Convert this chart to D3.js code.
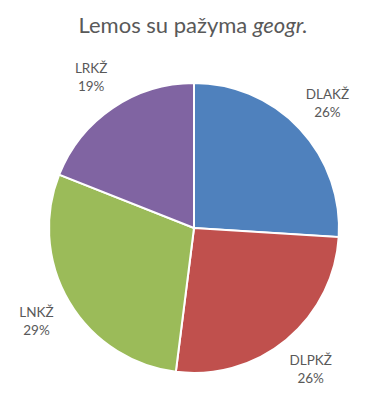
<!DOCTYPE html>
<html>
<head>
<meta charset="utf-8">
<script src="https://cdn.jsdelivr.net/npm/d3@7"></script>
<style>
  body { margin: 0; background: #fff; }
  text { font-family: Lato, "Open Sans", sans-serif; fill: #595959; }
</style>
</head>
<body>
<div id="chart"></div>
<script>
// data
const categories = ["DLAKŽ", "DLPKŽ", "LNKŽ", "LRKŽ"];
const values = [26, 26, 29, 19];
const colors = ["#4F81BD", "#C0504D", "#9BBB59", "#8064A2"];

const width = 382, height = 415;
const cx = 194, cy = 228, radius = 145;

const svg = d3.select("#chart")
    .append("svg")
    .attr("width", width)
    .attr("height", height);

// Title with italic last word
const title = svg.append("text")
    .attr("x", 193)
    .attr("y", 33)
    .attr("text-anchor", "middle")
    .style("font-size", "22px");
title.append("tspan").text("Lemos su pažyma ");
title.append("tspan").style("font-style", "italic").text("geogr.");

const data = categories.map((c, i) => ({ name: c, value: values[i], color: colors[i] }));

const pie = d3.pie()
    .value(d => d.value)
    .sort(null);

const arc = d3.arc().innerRadius(0).outerRadius(radius);
const labelArc = d3.arc().innerRadius(183).outerRadius(183);

const g = svg.append("g")
    .attr("transform", `translate(${cx},${cy})`);

const arcs = pie(data);

g.selectAll(".slice")
    .data(arcs)
    .enter().append("path")
    .attr("class", "slice")
    .attr("d", arc)
    .attr("fill", d => d.data.color)
    .attr("stroke", "#fff")
    .attr("stroke-width", 2);

// Labels: name and percentage
const labels = g.selectAll(".label")
    .data(arcs)
    .enter().append("text")
    .attr("class", "label")
    .attr("text-anchor", "middle")
    .attr("transform", d => `translate(${labelArc.centroid(d)})`)
    .style("font-size", "13.5px");

labels.append("tspan")
    .attr("x", 0)
    .attr("y", -4)
    .text(d => d.data.name);
labels.append("tspan")
    .attr("x", 0)
    .attr("y", 14)
    .text(d => d.data.value + "%");
</script>
</body>
</html>
